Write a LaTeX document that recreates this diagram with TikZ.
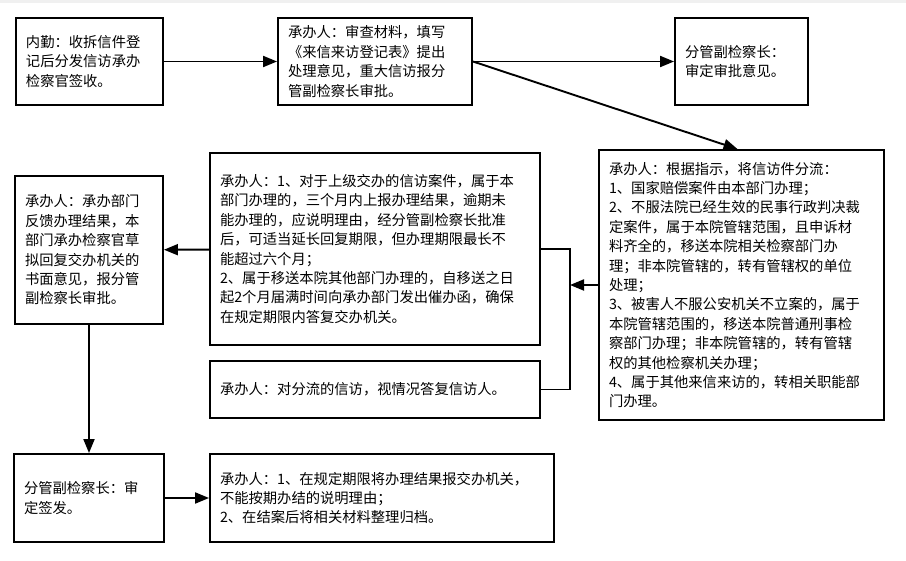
\documentclass[tikz,border=0pt]{standalone}
\usepackage{fontspec}
\setmainfont{Noto Sans CJK SC}
\usetikzlibrary{arrows.meta}

\begin{document}
\begin{tikzpicture}[x=1pt,y=-1pt,
  box/.style={draw,line width=1.9pt,inner xsep=10pt,inner ysep=4pt,align=left,
    font=\fontsize{14.3}{19.4}\selectfont},
  flow/.style={line width=1.9pt,-{Triangle[length=14pt,width=11pt]}},
  link/.style={line width=1.9pt}]
\useasboundingbox (0,0) rectangle (906,561);
\fill[gray!12] (0,0) rectangle (906,3);

\node[box,text width=127pt,minimum height=87pt] (neiqin) at (89.5,61.5)
  {内勤：收拆信件登\\记后分发信访承办\\检察官签收。};
\node[box,text width=174pt,minimum height=87pt] (shencha) at (375,61.5)
  {承办人：审查材料，填写\\《来信来访登记表》提出\\处理意见，重大信访报分\\管副检察长审批。};
\node[box,text width=113pt,minimum height=87pt] (shenpi) at (741.5,61.5)
  {分管副检察长：\\审定审批意见。};
\node[box,text width=265pt,minimum height=270pt] (fenliu) at (741.5,285)
  {承办人：根据指示，将信访件分流：\\
   1、国家赔偿案件由本部门办理；\\
   2、不服法院已经生效的民事行政判决裁\\
   定案件，属于本院管辖范围，且申诉材\\
   料齐全的，移送本院相关检察部门办\\
   理；非本院管辖的，转有管辖权的单位\\
   处理；\\
   3、被害人不服公安机关不立案的，属于\\
   本院管辖范围的，移送本院普通刑事检\\
   察部门办理；非本院管辖的，转有管辖\\
   权的其他检察机关办理；\\
   4、属于其他来信来访的，转相关职能部\\
   门办理。};
\node[box,text width=310pt,minimum height=192pt] (jiaoban) at (375,249)
  {承办人：1、对于上级交办的信访案件，属于本\\
   部门办理的，三个月内上报办理结果，逾期未\\
   能办理的，应说明理由，经分管副检察长批准\\
   后，可适当延长回复期限，但办理期限最长不\\
   能超过六个月；\\
   2、属于移送本院其他部门办理的，自移送之日\\
   起2个月届满时间向承办部门发出催办函，确保\\
   在规定期限内答复交办机关。};
\node[box,text width=310pt,minimum height=57pt] (dafu) at (375,389.5)
  {承办人：对分流的信访，视情况答复信访人。};
\node[box,text width=128pt,minimum height=148pt] (fankui) at (89,250)
  {承办人：承办部门\\反馈办理结果，本\\部门承办检察官草\\拟回复交办机关的\\书面意见，报分管\\副检察长审批。};
\node[box,text width=130pt,minimum height=88pt] (qianfa) at (89,498)
  {分管副检察长：审\\定签发。};
\node[box,text width=324pt,minimum height=88pt] (guidang) at (382,498)
  {承办人：1、在规定期限将办理结果报交办机关，\\不能按期办结的说明理由；\\2、在结案后将相关材料整理归档。};

\coordinate (join) at (570,285);

\draw[flow] (neiqin) -- (shencha);
\draw[flow] (shencha) -- (shenpi);
\draw[flow] (shencha.east) -- ([xshift=-4pt]fenliu.north);
\draw[flow] (fenliu.west) -- (join);
\draw[link] (jiaoban.east) -| (join) |- (dafu.east);
\draw[flow] (jiaoban) -- (fankui);
\draw[flow] (fankui) -- (qianfa);
\draw[flow] (qianfa) -- (guidang);
\end{tikzpicture}
\end{document}
